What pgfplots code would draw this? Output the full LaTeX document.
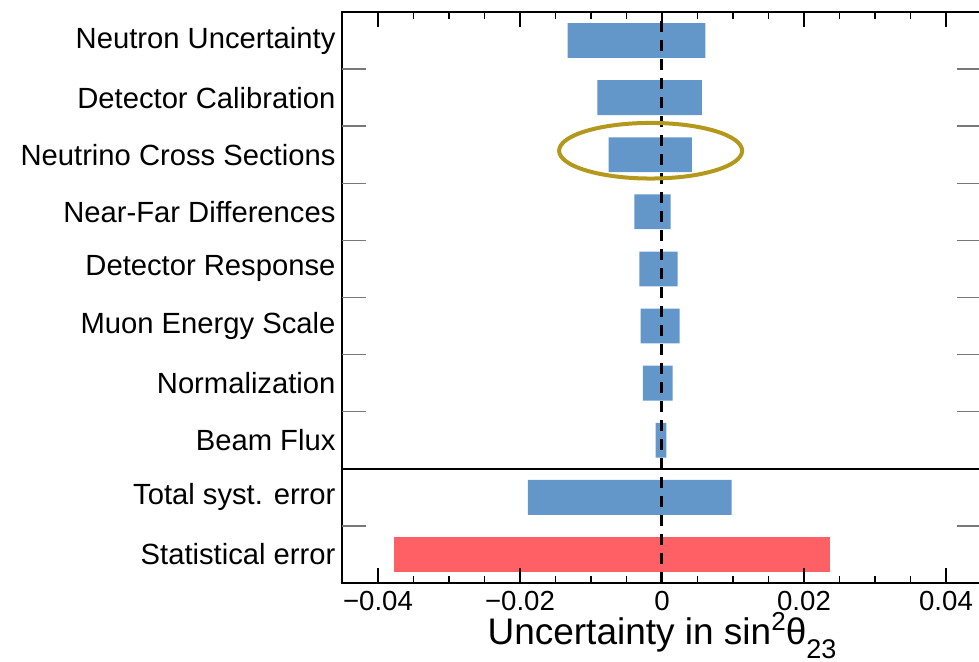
\documentclass[border=0pt]{standalone}
\usepackage{pgfplots}
\pgfplotsset{compat=1.18}
\usepackage{fontspec}
\setmainfont{Liberation Sans}
\definecolor{barblue}{RGB}{99,150,201}
\definecolor{barred}{RGB}{255,96,102}
\definecolor{ringgold}{RGB}{179,152,28}
\definecolor{tickgray}{RGB}{120,120,120}
\begin{document}
\begin{tikzpicture}[x=1pt,y=1pt]
\path[use as bounding box] (-171.25pt,-39.5pt) rectangle (318.25pt,291.5pt);
\begin{axis}[
  at={(0pt,0pt)}, anchor=south west,
  scale only axis,
  width=319.5pt, height=285.5pt,
  xmin=-0.045, xmax=0.045,
  ymin=-0.5, ymax=9.5,
  axis line style={line width=1pt},
  xtick={-0.04,-0.02,0,0.02,0.04},
  xticklabels={−0.04,−0.02,0,0.02,0.04},
  minor x tick num=3,
  major tick length=7.5pt,
  minor tick length=3.5pt,
  tick align=inside,
  xtick pos=both,
  ytick pos=both,
  scaled x ticks=false,
  x tick style={line width=0.8pt, black},
  x tick label style={font=\fontsize{13.8}{16}\selectfont, anchor=base, yshift=-14pt},
  ytick={0,...,9},
  yticklabels={Statistical error, Total syst. error, Beam Flux, Normalization, Muon Energy Scale, Detector Response, Near-Far Differences, Neutrino Cross Sections, Detector Calibration, Neutron Uncertainty},
  every y tick/.style={draw=none},
  y tick label style={font=\fontsize{14.6}{16}\selectfont, anchor=east},
  extra y ticks={0.5,2.5,3.5,4.5,5.5,6.5,7.5,8.5},
  extra y tick labels={},
  extra y tick style={major tick length=12pt,
     every y tick/.style={draw=tickgray, line width=0.75pt},
     tick style={draw=tickgray, line width=0.75pt}},
  xlabel={Uncertainty in sin\raisebox{7pt}{\fontsize{13}{14}\selectfont 2}θ\raisebox{-7pt}{\fontsize{13.5}{14}\selectfont 23}},
  xlabel style={font=\fontsize{18.5}{20}\selectfont, anchor=base, at={(axis description cs:0.5,0)}, yshift=-31pt, xshift=0pt},
  clip=false,
]
\addplot[xbar, bar width=0.61, bar shift=0pt, fill=barred, draw=none] coordinates {
 (-0.0377,0) };
\addplot[xbar, bar width=0.61, bar shift=0pt, fill=barred, draw=none] coordinates {
 (0.0236,0) };
\addplot[xbar, bar width=0.61, bar shift=0pt, fill=barblue, draw=none] coordinates {
 (-0.0189,1) (-0.0009,2) (-0.0027,3) (-0.0030,4) (-0.0032,5) (-0.0039,6) (-0.0075,7) (-0.0091,8) (-0.0133,9) };
\addplot[xbar, bar width=0.61, bar shift=0pt, fill=barblue, draw=none] coordinates {
 (0.0098,1) (0.0006,2) (0.0015,3) (0.0025,4) (0.0022,5) (0.0012,6) (0.0042,7) (0.0056,8) (0.0061,9) };
\addplot[black, line width=1.5pt, dash pattern=on 5.5pt off 4pt, mark=none] coordinates {(0,-0.5) (0,9.5)};
\addplot[black, line width=1pt, mark=none] coordinates {(-0.045,1.5) (0.045,1.5)};
\pgfplotsinvokeforeach{-0.04,-0.02,0.02,0.04}{
  \draw[black, line width=0.8pt] (axis cs:#1,-0.5) -- ++(0pt,7.5pt);
  \draw[black, line width=0.8pt] (axis cs:#1,9.5) -- ++(0pt,-7.5pt);
}
\pgfplotsinvokeforeach{-0.035,-0.03,-0.025,-0.015,-0.01,-0.005,0.005,0.01,0.015,0.025,0.03,0.035}{
  \draw[black, line width=0.8pt] (axis cs:#1,-0.5) -- ++(0pt,3.5pt);
  \draw[black, line width=0.8pt] (axis cs:#1,9.5) -- ++(0pt,-3.5pt);
}
\draw[ringgold, line width=2pt] (axis cs:-0.0016,7.07) ellipse [x radius=45.75pt, y radius=13.9pt];
\end{axis}
\end{tikzpicture}
\end{document}
